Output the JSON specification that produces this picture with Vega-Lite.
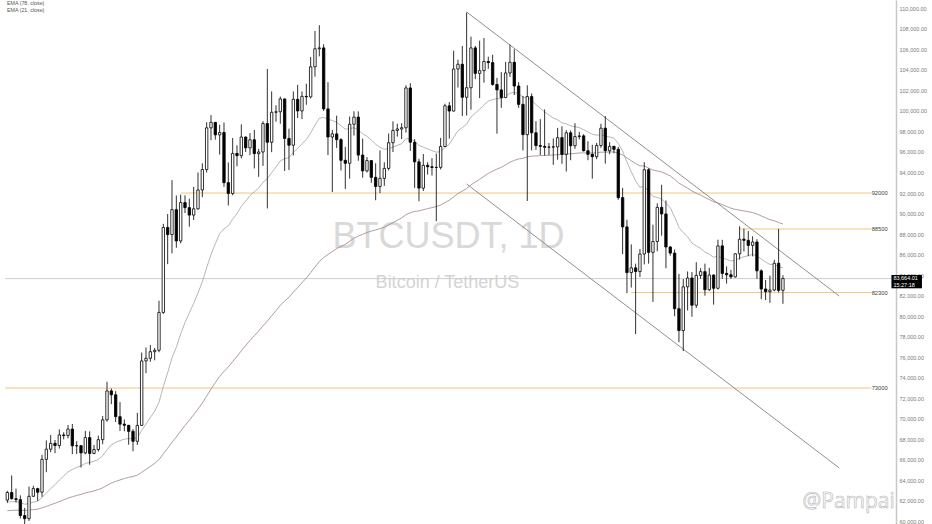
{
  "$schema": "https://vega.github.io/schema/vega-lite/v6.json",
  "width": 932,
  "height": 524,
  "padding": 0,
  "autosize": {"type": "none"},
  "background": "#ffffff",
  "config": {"view": {"stroke": null}, "font": "Liberation Sans", "axisY": {"labelOverlap": false, "tickCount": 26}},
  "datasets": {
    "candles": [
      {"date": "2024-10-06", "open": 62080, "high": 62980, "low": 61800, "close": 62820, "ema21": 61893, "ema78": 61046},
      {"date": "2024-10-07", "open": 62820, "high": 64480, "low": 62130, "close": 62220, "ema21": 61923, "ema78": 61076},
      {"date": "2024-10-08", "open": 62220, "high": 63200, "low": 61840, "close": 62130, "ema21": 61942, "ema78": 61103},
      {"date": "2024-10-09", "open": 62130, "high": 62540, "low": 60300, "close": 60580, "ema21": 61818, "ema78": 61090},
      {"date": "2024-10-10", "open": 60580, "high": 61320, "low": 58900, "close": 60270, "ema21": 61677, "ema78": 61069},
      {"date": "2024-10-11", "open": 60270, "high": 63400, "low": 60050, "close": 62450, "ema21": 61747, "ema78": 61104},
      {"date": "2024-10-12", "open": 62450, "high": 63480, "low": 62400, "close": 63200, "ema21": 61879, "ema78": 61157},
      {"date": "2024-10-13", "open": 63200, "high": 63280, "low": 62000, "close": 62850, "ema21": 61967, "ema78": 61200},
      {"date": "2024-10-14", "open": 62850, "high": 66500, "low": 62400, "close": 66050, "ema21": 62338, "ema78": 61323},
      {"date": "2024-10-15", "open": 66050, "high": 67900, "low": 64800, "close": 67040, "ema21": 62765, "ema78": 61468},
      {"date": "2024-10-16", "open": 67040, "high": 68420, "low": 66750, "close": 67610, "ema21": 63205, "ema78": 61624},
      {"date": "2024-10-17", "open": 67610, "high": 67940, "low": 66650, "close": 67400, "ema21": 63586, "ema78": 61770},
      {"date": "2024-10-18", "open": 67400, "high": 68970, "low": 67100, "close": 68430, "ema21": 64026, "ema78": 61939},
      {"date": "2024-10-19", "open": 68430, "high": 68690, "low": 68000, "close": 68370, "ema21": 64421, "ema78": 62102},
      {"date": "2024-10-20", "open": 68370, "high": 69400, "low": 68100, "close": 69000, "ema21": 64837, "ema78": 62277},
      {"date": "2024-10-21", "open": 69000, "high": 69500, "low": 66560, "close": 67370, "ema21": 65067, "ema78": 62406},
      {"date": "2024-10-22", "open": 67370, "high": 67820, "low": 66570, "close": 67380, "ema21": 65277, "ema78": 62532},
      {"date": "2024-10-23", "open": 67380, "high": 67450, "low": 65260, "close": 66680, "ema21": 65405, "ema78": 62637},
      {"date": "2024-10-24", "open": 66680, "high": 68820, "low": 66550, "close": 68170, "ema21": 65656, "ema78": 62777},
      {"date": "2024-10-25", "open": 68170, "high": 68780, "low": 65520, "close": 66630, "ema21": 65745, "ema78": 62875},
      {"date": "2024-10-26", "open": 66630, "high": 67450, "low": 66550, "close": 67010, "ema21": 65860, "ema78": 62980},
      {"date": "2024-10-27", "open": 67010, "high": 68350, "low": 66800, "close": 67970, "ema21": 66052, "ema78": 63106},
      {"date": "2024-10-28", "open": 67970, "high": 70270, "low": 67530, "close": 69900, "ema21": 66402, "ema78": 63278},
      {"date": "2024-10-29", "open": 69900, "high": 73620, "low": 69730, "close": 72720, "ema21": 66976, "ema78": 63517},
      {"date": "2024-10-30", "open": 72720, "high": 72960, "low": 71430, "close": 72340, "ema21": 67464, "ema78": 63740},
      {"date": "2024-10-31", "open": 72340, "high": 72700, "low": 69680, "close": 70210, "ema21": 67714, "ema78": 63904},
      {"date": "2024-11-01", "open": 70210, "high": 71630, "low": 68820, "close": 69480, "ema21": 67875, "ema78": 64045},
      {"date": "2024-11-02", "open": 69480, "high": 69930, "low": 68790, "close": 69370, "ema21": 68011, "ema78": 64180},
      {"date": "2024-11-03", "open": 69370, "high": 69400, "low": 67480, "close": 68780, "ema21": 68081, "ema78": 64296},
      {"date": "2024-11-04", "open": 68780, "high": 69000, "low": 66840, "close": 67810, "ema21": 68056, "ema78": 64385},
      {"date": "2024-11-05", "open": 67810, "high": 70580, "low": 67460, "close": 69360, "ema21": 68175, "ema78": 64511},
      {"date": "2024-11-06", "open": 69360, "high": 76460, "low": 69320, "close": 75640, "ema21": 68854, "ema78": 64793},
      {"date": "2024-11-07", "open": 75640, "high": 76950, "low": 74450, "close": 75900, "ema21": 69494, "ema78": 65074},
      {"date": "2024-11-08", "open": 75900, "high": 77200, "low": 75560, "close": 76540, "ema21": 70134, "ema78": 65364},
      {"date": "2024-11-09", "open": 76540, "high": 76900, "low": 75700, "close": 76680, "ema21": 70729, "ema78": 65651},
      {"date": "2024-11-10", "open": 76680, "high": 81500, "low": 76490, "close": 80370, "ema21": 71605, "ema78": 66024},
      {"date": "2024-11-11", "open": 80370, "high": 89000, "low": 80220, "close": 88650, "ema21": 73154, "ema78": 66597},
      {"date": "2024-11-12", "open": 88650, "high": 89950, "low": 85070, "close": 87950, "ema21": 74499, "ema78": 67138},
      {"date": "2024-11-13", "open": 87950, "high": 93260, "low": 86120, "close": 90380, "ema21": 75943, "ema78": 67726},
      {"date": "2024-11-14", "open": 90380, "high": 91760, "low": 86670, "close": 87330, "ema21": 76978, "ema78": 68222},
      {"date": "2024-11-15", "open": 87330, "high": 91850, "low": 87100, "close": 91070, "ema21": 78259, "ema78": 68801},
      {"date": "2024-11-16", "open": 91070, "high": 91780, "low": 90050, "close": 90580, "ema21": 79379, "ema78": 69352},
      {"date": "2024-11-17", "open": 90580, "high": 91450, "low": 88720, "close": 89850, "ema21": 80331, "ema78": 69871},
      {"date": "2024-11-18", "open": 89850, "high": 92600, "low": 89370, "close": 90460, "ema21": 81252, "ema78": 70392},
      {"date": "2024-11-19", "open": 90460, "high": 94000, "low": 90370, "close": 92300, "ema21": 82256, "ema78": 70947},
      {"date": "2024-11-20", "open": 92300, "high": 94900, "low": 91600, "close": 94290, "ema21": 83350, "ema78": 71538},
      {"date": "2024-11-21", "open": 94290, "high": 98900, "low": 94000, "close": 98350, "ema21": 84714, "ema78": 72217},
      {"date": "2024-11-22", "open": 98350, "high": 99590, "low": 97150, "close": 98890, "ema21": 86003, "ema78": 72892},
      {"date": "2024-11-23", "open": 98890, "high": 98900, "low": 97200, "close": 97670, "ema21": 87063, "ema78": 73519},
      {"date": "2024-11-24", "open": 97670, "high": 98650, "low": 95750, "close": 97900, "ema21": 88048, "ema78": 74136},
      {"date": "2024-11-25", "open": 97900, "high": 98870, "low": 92600, "close": 93010, "ema21": 88499, "ema78": 74614},
      {"date": "2024-11-26", "open": 93010, "high": 94980, "low": 90790, "close": 91960, "ema21": 88814, "ema78": 75053},
      {"date": "2024-11-27", "open": 91960, "high": 97360, "low": 91780, "close": 95860, "ema21": 89454, "ema78": 75580},
      {"date": "2024-11-28", "open": 95860, "high": 96650, "low": 94600, "close": 95640, "ema21": 90016, "ema78": 76088},
      {"date": "2024-11-29", "open": 95640, "high": 98690, "low": 95380, "close": 97460, "ema21": 90693, "ema78": 76629},
      {"date": "2024-11-30", "open": 97460, "high": 97500, "low": 96000, "close": 96400, "ema21": 91212, "ema78": 77130},
      {"date": "2024-12-01", "open": 96400, "high": 97840, "low": 95700, "close": 97190, "ema21": 91755, "ema78": 77638},
      {"date": "2024-12-02", "open": 97190, "high": 98150, "low": 94400, "close": 95840, "ema21": 92126, "ema78": 78099},
      {"date": "2024-12-03", "open": 95840, "high": 96300, "low": 93580, "close": 96000, "ema21": 92478, "ema78": 78552},
      {"date": "2024-12-04", "open": 96000, "high": 99000, "low": 94650, "close": 98770, "ema21": 93050, "ema78": 79064},
      {"date": "2024-12-05", "open": 98770, "high": 104090, "low": 90500, "close": 96950, "ema21": 93405, "ema78": 79517},
      {"date": "2024-12-06", "open": 96950, "high": 101900, "low": 95980, "close": 99870, "ema21": 93993, "ema78": 80032},
      {"date": "2024-12-07", "open": 99870, "high": 100550, "low": 98950, "close": 99920, "ema21": 94532, "ema78": 80536},
      {"date": "2024-12-08", "open": 99920, "high": 101400, "low": 98750, "close": 101170, "ema21": 95135, "ema78": 81058},
      {"date": "2024-12-09", "open": 101170, "high": 101200, "low": 94150, "close": 97320, "ema21": 95334, "ema78": 81470},
      {"date": "2024-12-10", "open": 97320, "high": 98270, "low": 94250, "close": 96660, "ema21": 95455, "ema78": 81855},
      {"date": "2024-12-11", "open": 96660, "high": 101900, "low": 95660, "close": 101130, "ema21": 95971, "ema78": 82343},
      {"date": "2024-12-12", "open": 101130, "high": 102540, "low": 99310, "close": 100000, "ema21": 96337, "ema78": 82790},
      {"date": "2024-12-13", "open": 100000, "high": 101900, "low": 99200, "close": 101420, "ema21": 96799, "ema78": 83262},
      {"date": "2024-12-14", "open": 101420, "high": 102650, "low": 100600, "close": 101370, "ema21": 97215, "ema78": 83720},
      {"date": "2024-12-15", "open": 101370, "high": 105250, "low": 101220, "close": 104300, "ema21": 97859, "ema78": 84241},
      {"date": "2024-12-16", "open": 104300, "high": 107790, "low": 103340, "close": 106060, "ema21": 98604, "ema78": 84793},
      {"date": "2024-12-17", "open": 106060, "high": 108350, "low": 105320, "close": 106140, "ema21": 99289, "ema78": 85334},
      {"date": "2024-12-18", "open": 106140, "high": 106500, "low": 100000, "close": 100200, "ema21": 99372, "ema78": 85710},
      {"date": "2024-12-19", "open": 100200, "high": 102800, "low": 95700, "close": 97460, "ema21": 99198, "ema78": 86008},
      {"date": "2024-12-20", "open": 97460, "high": 98150, "low": 92100, "close": 97760, "ema21": 99067, "ema78": 86306},
      {"date": "2024-12-21", "open": 97760, "high": 99540, "low": 96400, "close": 97200, "ema21": 98897, "ema78": 86582},
      {"date": "2024-12-22", "open": 97200, "high": 97350, "low": 94200, "close": 95190, "ema21": 98560, "ema78": 86800},
      {"date": "2024-12-23", "open": 95190, "high": 96500, "low": 92400, "close": 94900, "ema21": 98227, "ema78": 87005},
      {"date": "2024-12-24", "open": 94900, "high": 99450, "low": 93400, "close": 98700, "ema21": 98270, "ema78": 87301},
      {"date": "2024-12-25", "open": 98700, "high": 99960, "low": 97600, "close": 99400, "ema21": 98373, "ema78": 87607},
      {"date": "2024-12-26", "open": 99400, "high": 99960, "low": 95140, "close": 95700, "ema21": 98130, "ema78": 87812},
      {"date": "2024-12-27", "open": 95700, "high": 97300, "low": 93500, "close": 94160, "ema21": 97769, "ema78": 87973},
      {"date": "2024-12-28", "open": 94160, "high": 95500, "low": 94000, "close": 95160, "ema21": 97532, "ema78": 88155},
      {"date": "2024-12-29", "open": 95160, "high": 95200, "low": 93000, "close": 93530, "ema21": 97168, "ema78": 88291},
      {"date": "2024-12-30", "open": 93530, "high": 94900, "low": 91300, "close": 92640, "ema21": 96756, "ema78": 88401},
      {"date": "2024-12-31", "open": 92640, "high": 96150, "low": 92000, "close": 93430, "ema21": 96454, "ema78": 88528},
      {"date": "2025-01-01", "open": 93430, "high": 95000, "low": 92700, "close": 94400, "ema21": 96267, "ema78": 88677},
      {"date": "2025-01-02", "open": 94400, "high": 97800, "low": 94200, "close": 96900, "ema21": 96325, "ema78": 88885},
      {"date": "2025-01-03", "open": 96900, "high": 98980, "low": 96000, "close": 98100, "ema21": 96486, "ema78": 89118},
      {"date": "2025-01-04", "open": 98100, "high": 98750, "low": 97500, "close": 98240, "ema21": 96645, "ema78": 89349},
      {"date": "2025-01-05", "open": 98240, "high": 98800, "low": 97260, "close": 98360, "ema21": 96801, "ema78": 89577},
      {"date": "2025-01-06", "open": 98360, "high": 102500, "low": 97900, "close": 102240, "ema21": 97295, "ema78": 89898},
      {"date": "2025-01-07", "open": 102240, "high": 102700, "low": 96100, "close": 96950, "ema21": 97264, "ema78": 90077},
      {"date": "2025-01-08", "open": 96950, "high": 97250, "low": 92500, "close": 95040, "ema21": 97062, "ema78": 90203},
      {"date": "2025-01-09", "open": 95040, "high": 95350, "low": 91200, "close": 92480, "ema21": 96645, "ema78": 90261},
      {"date": "2025-01-10", "open": 92480, "high": 95800, "low": 92200, "close": 94700, "ema21": 96468, "ema78": 90373},
      {"date": "2025-01-11", "open": 94700, "high": 95000, "low": 93800, "close": 94560, "ema21": 96295, "ema78": 90479},
      {"date": "2025-01-12", "open": 94560, "high": 95400, "low": 93700, "close": 94490, "ema21": 96131, "ema78": 90581},
      {"date": "2025-01-13", "open": 94490, "high": 95850, "low": 89250, "close": 94500, "ema21": 95983, "ema78": 90680},
      {"date": "2025-01-14", "open": 94500, "high": 97370, "low": 94300, "close": 96530, "ema21": 96033, "ema78": 90828},
      {"date": "2025-01-15", "open": 96530, "high": 100700, "low": 96500, "close": 100500, "ema21": 96439, "ema78": 91073},
      {"date": "2025-01-16", "open": 100500, "high": 100870, "low": 97300, "close": 99990, "ema21": 96762, "ema78": 91299},
      {"date": "2025-01-17", "open": 99990, "high": 105870, "low": 99950, "close": 104080, "ema21": 97427, "ema78": 91623},
      {"date": "2025-01-18", "open": 104080, "high": 104990, "low": 102280, "close": 104550, "ema21": 98074, "ema78": 91950},
      {"date": "2025-01-19", "open": 104550, "high": 106320, "low": 99500, "close": 101330, "ema21": 98370, "ema78": 92188},
      {"date": "2025-01-20", "open": 101330, "high": 109590, "low": 99550, "close": 102260, "ema21": 98724, "ema78": 92443},
      {"date": "2025-01-21", "open": 102260, "high": 107240, "low": 100120, "close": 106140, "ema21": 99398, "ema78": 92790},
      {"date": "2025-01-22", "open": 106140, "high": 106330, "low": 103100, "close": 103660, "ema21": 99785, "ema78": 93065},
      {"date": "2025-01-23", "open": 103660, "high": 106850, "low": 101250, "close": 103930, "ema21": 100162, "ema78": 93340},
      {"date": "2025-01-24", "open": 103930, "high": 107100, "low": 102750, "close": 104820, "ema21": 100585, "ema78": 93631},
      {"date": "2025-01-25", "open": 104820, "high": 105290, "low": 104100, "close": 104710, "ema21": 100960, "ema78": 93912},
      {"date": "2025-01-26", "open": 104710, "high": 105470, "low": 102460, "close": 102580, "ema21": 101107, "ema78": 94131},
      {"date": "2025-01-27", "open": 102580, "high": 103220, "low": 97780, "close": 102050, "ema21": 101193, "ema78": 94332},
      {"date": "2025-01-28", "open": 102050, "high": 103780, "low": 100300, "close": 101300, "ema21": 101203, "ema78": 94508},
      {"date": "2025-01-29", "open": 101300, "high": 104780, "low": 101300, "close": 103700, "ema21": 101430, "ema78": 94741},
      {"date": "2025-01-30", "open": 103700, "high": 106460, "low": 103320, "close": 104740, "ema21": 101731, "ema78": 94994},
      {"date": "2025-01-31", "open": 104740, "high": 106000, "low": 101550, "close": 102430, "ema21": 101795, "ema78": 95182},
      {"date": "2025-02-01", "open": 102430, "high": 102800, "low": 100300, "close": 100640, "ema21": 101690, "ema78": 95320},
      {"date": "2025-02-02", "open": 100640, "high": 101460, "low": 96150, "close": 97690, "ema21": 101326, "ema78": 95380},
      {"date": "2025-02-03", "open": 97690, "high": 102500, "low": 91230, "close": 101400, "ema21": 101333, "ema78": 95532},
      {"date": "2025-02-04", "open": 101400, "high": 101700, "low": 96150, "close": 97870, "ema21": 101018, "ema78": 95591},
      {"date": "2025-02-05", "open": 97870, "high": 99000, "low": 96200, "close": 96620, "ema21": 100618, "ema78": 95617},
      {"date": "2025-02-06", "open": 96620, "high": 99200, "low": 95700, "close": 96550, "ema21": 100248, "ema78": 95641},
      {"date": "2025-02-07", "open": 96550, "high": 100140, "low": 95650, "close": 96460, "ema21": 99904, "ema78": 95662},
      {"date": "2025-02-08", "open": 96460, "high": 96880, "low": 95700, "close": 96480, "ema21": 99593, "ema78": 95683},
      {"date": "2025-02-09", "open": 96480, "high": 97320, "low": 94750, "close": 96500, "ema21": 99312, "ema78": 95704},
      {"date": "2025-02-10", "open": 96500, "high": 98350, "low": 95250, "close": 97400, "ema21": 99138, "ema78": 95747},
      {"date": "2025-02-11", "open": 97400, "high": 98500, "low": 94850, "close": 95770, "ema21": 98832, "ema78": 95748},
      {"date": "2025-02-12", "open": 95770, "high": 98120, "low": 94100, "close": 97870, "ema21": 98745, "ema78": 95802},
      {"date": "2025-02-13", "open": 97870, "high": 98100, "low": 95200, "close": 96610, "ema21": 98551, "ema78": 95822},
      {"date": "2025-02-14", "open": 96610, "high": 98800, "low": 96300, "close": 97500, "ema21": 98455, "ema78": 95864},
      {"date": "2025-02-15", "open": 97500, "high": 97970, "low": 97230, "close": 97570, "ema21": 98375, "ema78": 95907},
      {"date": "2025-02-16", "open": 97570, "high": 97730, "low": 96050, "close": 96120, "ema21": 98170, "ema78": 95912},
      {"date": "2025-02-17", "open": 96120, "high": 97050, "low": 95200, "close": 95770, "ema21": 97952, "ema78": 95908},
      {"date": "2025-02-18", "open": 95770, "high": 96700, "low": 93400, "close": 95540, "ema21": 97733, "ema78": 95899},
      {"date": "2025-02-19", "open": 95540, "high": 96880, "low": 95300, "close": 96630, "ema21": 97633, "ema78": 95918},
      {"date": "2025-02-20", "open": 96630, "high": 98750, "low": 96400, "close": 98320, "ema21": 97695, "ema78": 95979},
      {"date": "2025-02-21", "open": 98320, "high": 99500, "low": 94870, "close": 96120, "ema21": 97552, "ema78": 95983},
      {"date": "2025-02-22", "open": 96120, "high": 96950, "low": 95780, "close": 96550, "ema21": 97461, "ema78": 95997},
      {"date": "2025-02-23", "open": 96550, "high": 96600, "low": 95870, "close": 96260, "ema21": 97352, "ema78": 96004},
      {"date": "2025-02-24", "open": 96260, "high": 96500, "low": 91350, "close": 91550, "ema21": 96825, "ema78": 95891},
      {"date": "2025-02-25", "open": 91550, "high": 92500, "low": 86050, "close": 88700, "ema21": 96086, "ema78": 95709},
      {"date": "2025-02-26", "open": 88700, "high": 89400, "low": 82250, "close": 84250, "ema21": 95010, "ema78": 95419},
      {"date": "2025-02-27", "open": 84250, "high": 87000, "low": 82790, "close": 84710, "ema21": 94074, "ema78": 95148},
      {"date": "2025-02-28", "open": 84710, "high": 85120, "low": 78260, "close": 84350, "ema21": 93190, "ema78": 94875},
      {"date": "2025-03-01", "open": 84350, "high": 86550, "low": 83820, "close": 86060, "ema21": 92542, "ema78": 94652},
      {"date": "2025-03-02", "open": 86060, "high": 95000, "low": 85050, "close": 94270, "ema21": 92699, "ema78": 94642},
      {"date": "2025-03-03", "open": 94270, "high": 94420, "low": 85120, "close": 86220, "ema21": 92110, "ema78": 94429},
      {"date": "2025-03-04", "open": 86220, "high": 88910, "low": 81390, "close": 87280, "ema21": 91671, "ema78": 94248},
      {"date": "2025-03-05", "open": 87280, "high": 91000, "low": 86330, "close": 90600, "ema21": 91574, "ema78": 94156},
      {"date": "2025-03-06", "open": 90600, "high": 92810, "low": 87850, "close": 89960, "ema21": 91427, "ema78": 94050},
      {"date": "2025-03-07", "open": 89960, "high": 91280, "low": 84670, "close": 86740, "ema21": 91001, "ema78": 93865},
      {"date": "2025-03-08", "open": 86740, "high": 86850, "low": 85900, "close": 86150, "ema21": 90560, "ema78": 93670},
      {"date": "2025-03-09", "open": 86150, "high": 86500, "low": 80000, "close": 80730, "ema21": 89666, "ema78": 93342},
      {"date": "2025-03-10", "open": 80730, "high": 84120, "low": 77460, "close": 78600, "ema21": 88660, "ema78": 92969},
      {"date": "2025-03-11", "open": 78600, "high": 83620, "low": 76600, "close": 82860, "ema21": 88133, "ema78": 92713},
      {"date": "2025-03-12", "open": 82860, "high": 84360, "low": 80560, "close": 83720, "ema21": 87732, "ema78": 92485},
      {"date": "2025-03-13", "open": 83720, "high": 84300, "low": 79940, "close": 81070, "ema21": 87126, "ema78": 92196},
      {"date": "2025-03-14", "open": 81070, "high": 85260, "low": 80800, "close": 83970, "ema21": 86839, "ema78": 91988},
      {"date": "2025-03-15", "open": 83970, "high": 84680, "low": 83650, "close": 84340, "ema21": 86612, "ema78": 91794},
      {"date": "2025-03-16", "open": 84340, "high": 85120, "low": 82000, "close": 82580, "ema21": 86245, "ema78": 91561},
      {"date": "2025-03-17", "open": 82580, "high": 84720, "low": 82460, "close": 84010, "ema21": 86042, "ema78": 91370},
      {"date": "2025-03-18", "open": 84010, "high": 84080, "low": 81130, "close": 82720, "ema21": 85740, "ema78": 91151},
      {"date": "2025-03-19", "open": 82720, "high": 87450, "low": 82600, "close": 86850, "ema21": 85841, "ema78": 91042},
      {"date": "2025-03-20", "open": 86850, "high": 87440, "low": 83650, "close": 84170, "ema21": 85689, "ema78": 90868},
      {"date": "2025-03-21", "open": 84170, "high": 84850, "low": 83180, "close": 84040, "ema21": 85539, "ema78": 90695},
      {"date": "2025-03-22", "open": 84040, "high": 84510, "low": 83650, "close": 83830, "ema21": 85384, "ema78": 90521},
      {"date": "2025-03-23", "open": 83830, "high": 86100, "low": 83760, "close": 86080, "ema21": 85447, "ema78": 90409},
      {"date": "2025-03-24", "open": 86080, "high": 88760, "low": 85520, "close": 87500, "ema21": 85634, "ema78": 90335},
      {"date": "2025-03-25", "open": 87500, "high": 88540, "low": 86310, "close": 87390, "ema21": 85794, "ema78": 90260},
      {"date": "2025-03-26", "open": 87390, "high": 88290, "low": 85850, "close": 86900, "ema21": 85895, "ema78": 90175},
      {"date": "2025-03-27", "open": 86900, "high": 87790, "low": 85830, "close": 87230, "ema21": 86016, "ema78": 90100},
      {"date": "2025-03-28", "open": 87230, "high": 87500, "low": 83640, "close": 84420, "ema21": 85871, "ema78": 89956},
      {"date": "2025-03-29", "open": 84420, "high": 84560, "low": 81650, "close": 82650, "ema21": 85578, "ema78": 89771},
      {"date": "2025-03-30", "open": 82650, "high": 83520, "low": 81570, "close": 82390, "ema21": 85288, "ema78": 89584},
      {"date": "2025-03-31", "open": 82390, "high": 83950, "low": 81300, "close": 82550, "ema21": 85039, "ema78": 89406},
      {"date": "2025-04-01", "open": 82550, "high": 85490, "low": 82430, "close": 85160, "ema21": 85050, "ema78": 89298},
      {"date": "2025-04-02", "open": 85160, "high": 88500, "low": 82320, "close": 82520, "ema21": 84820, "ema78": 89126},
      {"date": "2025-04-03", "open": 82520, "high": 84000, "low": 81210, "close": 83664.01, "ema21": 84715, "ema78": 88988}
    ],
    "levels": [
      {"level": 92000, "start": "2024-11-15", "end": "2025-04-23T11:00:00Z", "label": "92000"},
      {"level": 88500, "start": "2025-03-24", "end": "2025-04-23T11:00:00Z", "label": "88500"},
      {"level": 82300, "start": "2025-02-27", "end": "2025-04-23T11:00:00Z", "label": "82300"},
      {"level": 73000, "start": "2024-10-05T11:00:00Z", "end": "2025-04-23T11:00:00Z", "label": "73000"}
    ],
    "channel": [
      {"from": "2025-01-20", "to": "2025-04-16", "p1": 109640, "p2": 81967},
      {"from": "2025-01-20", "to": "2025-04-16", "p1": 92880, "p2": 65207}
    ],
    "single": [{}]
  },
  "layer": [
    {
      "data": {"name": "candles"},
      "mark": {"type": "point", "opacity": 0, "size": 0},
      "encoding": {
        "x": {"field": "date", "type": "temporal", "axis": null,
              "scale": {"domain": [{"year": 2024, "month": 10, "date": 5, "hours": 11, "utc": true}, {"year": 2025, "month": 5, "date": 6, "hours": 6, "utc": true}]}},
        "y": {"field": "close", "type": "quantitative", "title": null,
              "scale": {"domain": [59752, 110809], "nice": false, "zero": false},
              "axis": {"orient": "right", "offset": -36, "values": [60000, 62000, 64000, 66000, 68000, 70000, 72000, 74000, 76000, 78000, 80000, 82000, 84000, 86000, 88000, 90000, 92000, 94000, 96000, 98000, 100000, 102000, 104000, 106000, 108000, 110000],
                       "tickCount": 26, "format": ",.2f", "labelFont": "Liberation Sans", "labelFontSize": 5.5, "labelColor": "#7a7a7a", "ticks": false, "labelPadding": 3,
                       "domainColor": "#c8c8c8", "domainWidth": 1.5, "grid": false, "title": null, "labelOverlap": false, "labelFlush": false}}
      }
    },
    {
      "data": {"name": "single"},
      "mark": {"type": "text", "fontSize": 36, "color": "#d9d9d9", "align": "center", "baseline": "alphabetic", "font": "Liberation Sans"},
      "encoding": {
        "x": {"datum": {"year": 2025, "month": 1, "date": 15, "hours": 20, "utc": true}, "type": "temporal", "axis": null},
        "y": {"datum": 86645, "type": "quantitative"},
        "text": {"value": "BTCUSDT, 1D"}
      }
    },
    {
      "data": {"name": "single"},
      "mark": {"type": "text", "fontSize": 18, "color": "#d4d4d4", "align": "center", "baseline": "alphabetic", "font": "Liberation Sans"},
      "encoding": {
        "x": {"datum": {"year": 2025, "month": 1, "date": 15, "hours": 14, "utc": true}, "type": "temporal", "axis": null},
        "y": {"datum": 82747, "type": "quantitative"},
        "text": {"value": "Bitcoin / TetherUS"}
      }
    },
    {
      "data": {"name": "single"},
      "mark": {"type": "text", "fontSize": 21, "fill": "#ffffff", "stroke": "#b5b5b5", "strokeWidth": 0.6, "align": "left", "baseline": "alphabetic", "font": "Open Sans"},
      "encoding": {
        "x": {"datum": {"year": 2025, "month": 4, "date": 7, "hours": 12, "utc": true}, "type": "temporal", "axis": null},
        "y": {"datum": 61300, "type": "quantitative"},
        "text": {"value": "@Pampai"}
      }
    },
    {
      "data": {"name": "levels"},
      "mark": {"type": "rule", "color": "#f3c47e", "strokeWidth": 1},
      "encoding": {
        "x": {"field": "start", "type": "temporal", "axis": null},
        "x2": {"field": "end"},
        "y": {"field": "level", "type": "quantitative"}
      }
    },
    {
      "data": {"name": "levels"},
      "mark": {"type": "text", "fontSize": 5.8, "color": "#444444", "align": "center", "baseline": "middle", "font": "Liberation Sans"},
      "encoding": {
        "x": {"datum": {"year": 2025, "month": 4, "date": 25, "hours": 8, "utc": true}, "type": "temporal", "axis": null},
        "y": {"field": "level", "type": "quantitative"},
        "text": {"field": "label"}
      }
    },
    {
      "data": {"name": "single"},
      "mark": {"type": "rule", "color": "#cfcfcf", "strokeWidth": 1},
      "encoding": {
        "x": {"datum": {"year": 2024, "month": 10, "date": 5, "hours": 11, "utc": true}, "type": "temporal", "axis": null},
        "x2": {"datum": {"year": 2025, "month": 4, "date": 28, "hours": 1, "utc": true}},
        "y": {"datum": 83664.01, "type": "quantitative"}
      }
    },
    {
      "data": {"name": "channel"},
      "mark": {"type": "rule", "color": "#8f8f8f", "strokeWidth": 1},
      "encoding": {
        "x": {"field": "from", "type": "temporal", "axis": null},
        "x2": {"field": "to"},
        "y": {"field": "p1", "type": "quantitative"},
        "y2": {"field": "p2"}
      }
    },
    {
      "data": {"name": "candles"},
      "mark": {"type": "line", "color": "#a08484", "strokeWidth": 0.8},
      "encoding": {
        "x": {"field": "date", "type": "temporal", "axis": null},
        "y": {"field": "ema78", "type": "quantitative"}
      }
    },
    {
      "data": {"name": "candles"},
      "mark": {"type": "line", "color": "#a3a3a3", "strokeWidth": 0.8},
      "encoding": {
        "x": {"field": "date", "type": "temporal", "axis": null},
        "y": {"field": "ema21", "type": "quantitative"}
      }
    },
    {
      "data": {"name": "candles"},
      "mark": {"type": "rule", "color": "#1a1a1a", "strokeWidth": 0.9},
      "encoding": {
        "x": {"field": "date", "type": "temporal", "axis": null},
        "y": {"field": "low", "type": "quantitative"},
        "y2": {"field": "high"}
      }
    },
    {
      "data": {"name": "candles"},
      "mark": {"type": "bar", "size": 2.4, "stroke": "#000000", "strokeWidth": 0.8},
      "encoding": {
        "x": {"field": "date", "type": "temporal", "axis": null},
        "y": {"field": "open", "type": "quantitative"},
        "y2": {"field": "close"},
        "fill": {"condition": {"test": "datum.close >= datum.open", "value": "#ffffff"}, "value": "#000000"}
      }
    },
    {
      "data": {"name": "single"},
      "mark": {"type": "rect", "color": "#000000"},
      "encoding": {
        "x": {"datum": {"year": 2025, "month": 4, "date": 28, "hours": 1, "utc": true}, "type": "temporal", "axis": null},
        "x2": {"datum": {"year": 2025, "month": 5, "date": 5, "hours": 2, "utc": true}},
        "y": {"datum": 84013, "type": "quantitative"},
        "y2": {"datum": 82717}
      }
    },
    {
      "data": {"name": "single"},
      "mark": {"type": "text", "fontSize": 5.5, "color": "#ffffff", "align": "left", "baseline": "middle", "font": "Liberation Sans"},
      "encoding": {
        "x": {"datum": {"year": 2025, "month": 4, "date": 28, "hours": 12, "utc": true}, "type": "temporal", "axis": null},
        "y": {"datum": 83692, "type": "quantitative"},
        "text": {"value": "83,664.01"}
      }
    },
    {
      "data": {"name": "single"},
      "mark": {"type": "text", "fontSize": 5.5, "color": "#ffffff", "align": "left", "baseline": "middle", "font": "Liberation Sans"},
      "encoding": {
        "x": {"datum": {"year": 2025, "month": 4, "date": 28, "hours": 12, "utc": true}, "type": "temporal", "axis": null},
        "y": {"datum": 83088, "type": "quantitative"},
        "text": {"value": "15:27:18"}
      }
    },
    {
      "data": {"name": "single"},
      "mark": {"type": "text", "fontSize": 5.3, "color": "#555555", "align": "left", "baseline": "middle", "font": "Liberation Sans"},
      "encoding": {
        "x": {"datum": {"year": 2024, "month": 10, "date": 5, "hours": 22, "utc": true}, "type": "temporal", "axis": null},
        "y": {"datum": 110516, "type": "quantitative"},
        "text": {"value": "EMA (78, close)"}
      }
    },
    {
      "data": {"name": "single"},
      "mark": {"type": "text", "fontSize": 5.3, "color": "#555555", "align": "left", "baseline": "middle", "font": "Liberation Sans"},
      "encoding": {
        "x": {"datum": {"year": 2024, "month": 10, "date": 5, "hours": 22, "utc": true}, "type": "temporal", "axis": null},
        "y": {"datum": 109883, "type": "quantitative"},
        "text": {"value": "EMA (21, close)"}
      }
    }
  ]
}
